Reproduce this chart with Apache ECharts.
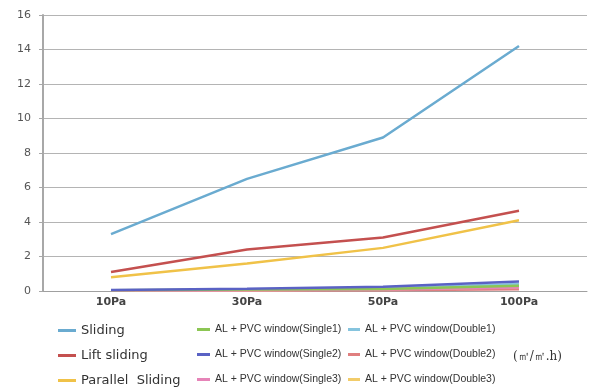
<!DOCTYPE html>
<html><head><meta charset="utf-8">
<script src="https://cdn.jsdelivr.net/npm/echarts@6/dist/echarts.min.js"></script>
<style>html,body{margin:0;padding:0;background:#fff}#c{width:595px;height:390px}</style>
</head><body><div id="c"></div>
<script>
const categories = ['10Pa', '30Pa', '50Pa', '100Pa'];
const yTicks = [0, 2, 4, 6, 8, 10, 12, 14, 16];
const sliding = [3.3, 6.5, 8.9, 14.2];
const liftSliding = [1.1, 2.4, 3.1, 4.65];
const parallelSliding = [0.8, 1.6, 2.5, 4.1];
const single1 = [0.05, 0.08, 0.12, 0.3];
const single2 = [0.06, 0.13, 0.25, 0.55];
const single3 = [0.02, 0.05, 0.08, 0.2];
const double1 = [0.03, 0.06, 0.14, 0.4];
const double2 = [0.01, 0.03, 0.05, 0.1];
const double3 = [0.03, 0.05, 0.1, 0.22];
const unitText = '(㎥/㎡.h)';

const seriesDefs = [
  ['Sliding', sliding, '#6aabd0'],
  ['Lift sliding', liftSliding, '#c4504f'],
  ['Parallel  Sliding', parallelSliding, '#f0c248'],
  ['AL + PVC window(Single1)', single1, '#8cc654'],
  ['AL + PVC window(Single2)', single2, '#5a62c4'],
  ['AL + PVC window(Single3)', single3, '#e684b8'],
  ['AL + PVC window(Double1)', double1, '#86c4de'],
  ['AL + PVC window(Double2)', double2, '#e07f7f'],
  ['AL + PVC window(Double3)', double3, '#f2cc6a']
];
const order = [6, 7, 8, 5, 3, 4, 2, 1, 0];
const series = order.map(i => ({
  name: seriesDefs[i][0], type: 'line', data: seriesDefs[i][1],
  symbol: 'none', lineStyle: {width: 2.5, color: seriesDefs[i][2]},
  itemStyle: {color: seriesDefs[i][2]}
}));

function legendCol(names, left, fontFamily, fontSize, iconW, gap) {
  return {
    orient: 'vertical', left: left, top: 324, itemGap: gap, padding: 0,
    icon: 'rect', itemWidth: iconW, itemHeight: 3,
    data: names,
    selectedMode: false,
    textStyle: {fontFamily: fontFamily, fontSize: fontSize, color: '#333'}
  };
}

const chart = echarts.init(document.getElementById('c'));
chart.setOption({
  animation: false,
  grid: {left: 43, right: 8, top: 15, bottom: 99},
  xAxis: {
    type: 'category', data: categories, boundaryGap: true,
    axisLine: {lineStyle: {color: '#a0a0a0', width: 1}},
    axisTick: {show: false},
    axisLabel: {color: '#444', fontSize: 11, fontWeight: 'bold', fontFamily: 'DejaVu Sans', margin: 6}
  },
  yAxis: {
    type: 'value', min: yTicks[0], max: yTicks[yTicks.length - 1], interval: 2,
    axisLine: {show: true, lineStyle: {color: '#a8a8a8', width: 2}},
    axisTick: {show: true, length: 4, lineStyle: {color: '#a8a8a8'}},
    splitLine: {lineStyle: {color: '#b4b4b4', width: 1}},
    axisLabel: {color: '#555', fontSize: 11, fontFamily: 'DejaVu Sans', margin: 12}
  },
  legend: [
    legendCol(['Sliding', 'Lift sliding', 'Parallel  Sliding'], 58, 'DejaVu Sans', 13, 18, 12),
    legendCol(['AL + PVC window(Single1)', 'AL + PVC window(Single2)', 'AL + PVC window(Single3)'], 197, 'Liberation Sans', 10.5, 13, 14),
    legendCol(['AL + PVC window(Double1)', 'AL + PVC window(Double2)', 'AL + PVC window(Double3)'], 348, 'Liberation Sans', 10.5, 12, 14)
  ],
  graphic: [{
    type: 'text', left: 513, top: 351,
    style: {text: unitText, fontSize: 12, fontFamily: 'DejaVu Serif', fill: '#333'}
  }],
  series: series
});
</script></body></html>
